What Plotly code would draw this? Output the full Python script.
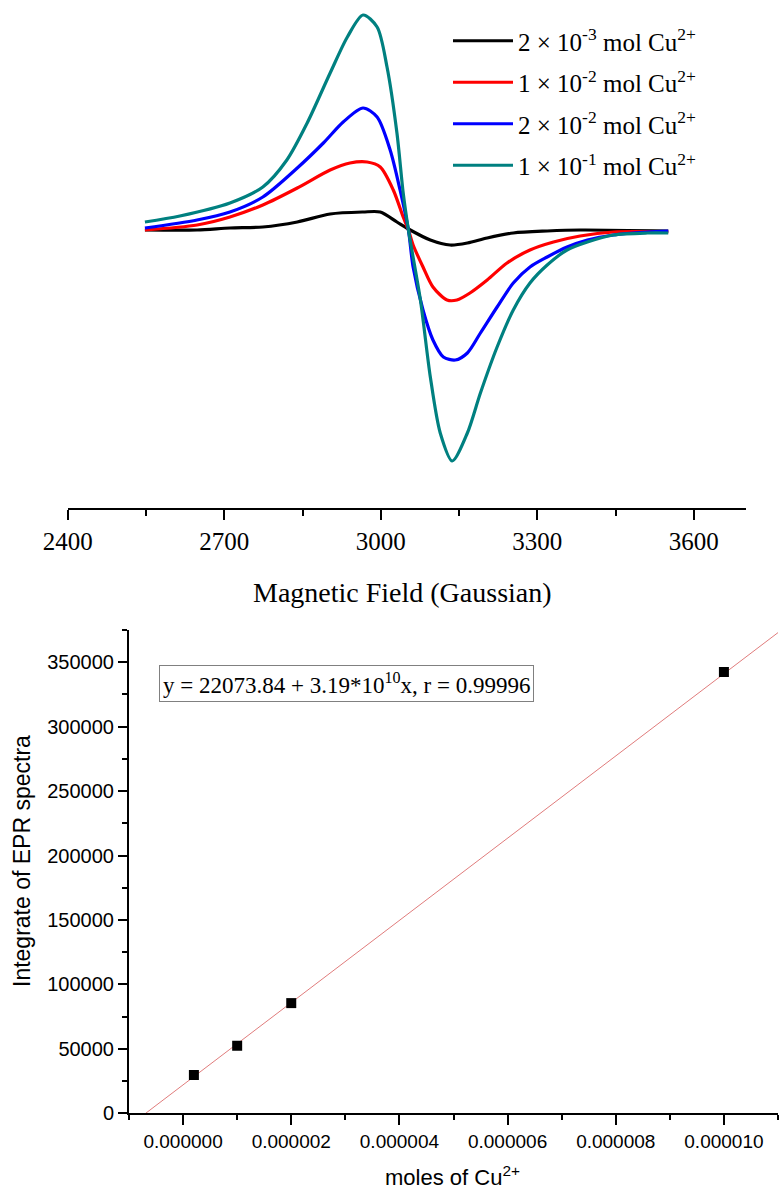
import plotly.graph_objects as go

# ---------------- Top panel: EPR spectra (arbitrary intensity units) ----------------
black_field = [2548, 2648, 2711, 2774, 2840, 2903, 2966, 2999, 3031, 3053, 3095, 3133, 3166, 3204, 3254, 3319, 3382, 3551]
black_int = [0, 0, 2, 3, 8, 16, 18, 18, 8, 1, -10, -15, -13, -8, -3, -1, 0, -1]

red_field = [2548, 2648, 2711, 2774, 2840, 2903, 2941, 2974, 2999, 3024, 3043, 3053, 3062, 3081, 3100, 3127, 3146, 3171, 3204, 3242, 3286, 3331, 3382, 3446, 3551]
red_int = [0, 5, 13, 25, 42, 60, 67, 68, 63, 40, 13, 0, -15, -37, -57, -70, -70, -63, -50, -33, -20, -12, -6, -2, -2]

blue_field = [2548, 2648, 2711, 2774, 2840, 2890, 2928, 2966, 2993, 3018, 3037, 3053, 3062, 3081, 3100, 3120, 3143, 3166, 3191, 3223, 3254, 3286, 3319, 3357, 3396, 3446, 3511, 3551]
blue_int = [2, 10, 18, 33, 62, 87, 108, 122, 113, 80, 40, 0, -37, -80, -110, -127, -130, -123, -103, -77, -53, -37, -27, -17, -10, -5, -2, -1]

teal_field = [2548, 2615, 2711, 2774, 2820, 2859, 2903, 2936, 2966, 2993, 3012, 3031, 3043, 3053, 3076, 3095, 3114, 3137, 3166, 3191, 3223, 3254, 3286, 3319, 3357, 3396, 3446, 3511, 3551]
teal_int = [8, 14, 27, 43, 70, 107, 157, 193, 215, 203, 163, 97, 37, 0, -70, -147, -203, -231, -203, -163, -117, -80, -53, -35, -20, -12, -5, -3, -3]

spectra_labels = [
    "2 \u00d7 10<sup>-3</sup> mol Cu<sup>2+</sup>",
    "1 \u00d7 10<sup>-2</sup> mol Cu<sup>2+</sup>",
    "2 \u00d7 10<sup>-2</sup> mol Cu<sup>2+</sup>",
    "1 \u00d7 10<sup>-1</sup> mol Cu<sup>2+</sup>",
]
spectra_colors = ["#000000", "#FF0000", "#0000FF", "#008080"]

# ---------------- Bottom panel: calibration ----------------
moles = [2e-7, 1e-6, 2e-6, 1e-5]
integrals = [29800, 52500, 85500, 342400]
fit_intercept = 22073.84
fit_slope = 3.19e10
fit_x = [-6.92e-7, 1.1e-5]

W, H = 781, 1195
serif = "Liberation Serif, Times New Roman, serif"
sans = "Liberation Sans, Arial, sans-serif"

fig = go.Figure()

series = [(black_field, black_int), (red_field, red_int), (blue_field, blue_int), (teal_field, teal_int)]
for i, ((fx, fy), lab, col) in enumerate(zip(series, spectra_labels, spectra_colors)):
    fig.add_trace(go.Scatter(
        x=fx, y=fy, mode="lines", name=lab, legendgroup=f"g{i}",
        line=dict(color=col, width=3.2, shape="spline", smoothing=0.8),
        xaxis="x", yaxis="y",
    ))

fit_y = [fit_intercept + fit_slope * v for v in fit_x]
fig.add_trace(go.Scatter(
    x=fit_x, y=fit_y, mode="lines", showlegend=False,
    line=dict(color="#E07C7C", width=1), xaxis="x2", yaxis="y2",
))
fig.add_trace(go.Scatter(
    x=moles, y=integrals, mode="markers", showlegend=False,
    marker=dict(symbol="square", size=10, color="#000000"), xaxis="x2", yaxis="y2",
))

def px_x(p):
    return p / W

def px_y(p):
    return 1 - p / H

fig.update_layout(
    width=W, height=H, autosize=False,
    margin=dict(l=0, r=0, t=0, b=0, autoexpand=False),
    paper_bgcolor="white", plot_bgcolor="white",
    showlegend=True,
    legend=dict(
        x=px_x(448), y=px_y(18), xanchor="left", yanchor="top",
        font=dict(family=serif, size=25, color="black"),
        bgcolor="rgba(0,0,0,0)", itemwidth=60, tracegroupgap=6,
    ),
    xaxis=dict(
        domain=[px_x(67.7), px_x(746)], anchor="y", automargin=False,
        range=[2400, 3700], tickmode="linear", tick0=2400, dtick=300,
        showline=True, linecolor="black", linewidth=2,
        ticks="outside", ticklen=10, tickwidth=2, tickcolor="black",
        minor=dict(ticks="outside", ticklen=6, tickwidth=2, tickcolor="black", dtick=150),
        showgrid=False, zeroline=False,
        tickfont=dict(family=serif, size=25, color="black"),
    ),
    yaxis=dict(
        domain=[px_y(508.3), 1.0], anchor="x", automargin=False,
        range=[-278.3, 230], visible=False,
    ),
    xaxis2=dict(
        domain=[px_x(129), px_x(778)], anchor="y2", automargin=False,
        range=[-1e-6, 1.1e-5], tickmode="linear", tick0=0, dtick=2e-6,
        tickformat=".6f",
        showline=True, linecolor="black", linewidth=2,
        ticks="outside", ticklen=10, tickwidth=2, tickcolor="black",
        minor=dict(ticks="outside", ticklen=5, tickwidth=2, tickcolor="black", dtick=1e-6),
        showgrid=False, zeroline=False,
        tickfont=dict(family=sans, size=19, color="black"),
    ),
    yaxis2=dict(
        domain=[px_y(1113.3), px_y(630)], anchor="x2", automargin=False,
        range=[0, 375000], tickmode="linear", tick0=0, dtick=50000,
        tickformat="d",
        showline=True, linecolor="black", linewidth=2,
        ticks="outside", ticklen=9, tickwidth=2, tickcolor="black",
        minor=dict(ticks="outside", ticklen=5, tickwidth=2, tickcolor="black", dtick=25000),
        showgrid=False, zeroline=False,
        tickfont=dict(family=sans, size=20, color="black"),
    ),
    annotations=[
        dict(text="Magnetic Field (Gaussian)", x=px_x(402), y=px_y(592),
             xref="paper", yref="paper", xanchor="center", yanchor="middle",
             showarrow=False, font=dict(family=serif, size=28, color="black")),
        dict(text="moles of Cu<sup>2+</sup>", x=px_x(453), y=px_y(1176),
             xref="paper", yref="paper", xanchor="center", yanchor="middle",
             showarrow=False, font=dict(family=sans, size=22, color="black")),
        dict(text="Integrate of EPR spectra", x=px_x(22), y=px_y(861),
             xref="paper", yref="paper", xanchor="center", yanchor="middle",
             textangle=-90, showarrow=False, font=dict(family=sans, size=23, color="black")),
        dict(text="y = 22073.84 + 3.19*10<sup>10</sup>x, r = 0.99996",
             x=px_x(159), y=px_y(665), xref="paper", yref="paper",
             xanchor="left", yanchor="top", showarrow=False,
             bordercolor="#808080", borderwidth=1, borderpad=3, bgcolor="white",
             font=dict(family=serif, size=23, color="black")),
    ],
)

fig.write_html("out.html")
